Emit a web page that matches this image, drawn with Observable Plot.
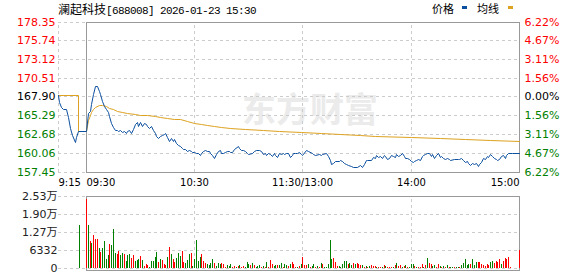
<!DOCTYPE html>
<html><head><meta charset="utf-8">
<script src="https://cdn.jsdelivr.net/npm/d3@7"></script>
<script src="https://cdn.jsdelivr.net/npm/@observablehq/plot@0.6"></script>
<style>
html,body{margin:0;padding:0;background:#fff;}
body{width:578px;height:276px;overflow:hidden;}
#head{position:relative;width:578px;height:16px;}
#title{position:absolute;left:58px;top:0;line-height:16px;white-space:nowrap;color:#000;}
#title .cn{font:12px "Noto Sans CJK SC";}
#title .en{font:11px "Liberation Mono";letter-spacing:-0.6px;}
.lg{position:absolute;top:0;line-height:16px;font:11px "Noto Sans CJK SC";color:#000;white-space:nowrap;}
.sw{position:absolute;top:6px;width:5px;height:3px;}
#p1 svg,#p2 svg{display:block;}
</style></head>
<body>
<div id="head">
  <div id="title"></div>
  <span class="lg" id="lg1" style="left:432px"></span>
  <span class="sw" id="sw1" style="left:462px"></span>
  <span class="lg" id="lg2" style="left:477px"></span>
  <span class="sw" id="sw2" style="left:508px"></span>
</div>
<div id="p1"></div>
<div id="p2"></div>
<script>
// ---------- data ----------
const stockName = "澜起科技";
const stockCode = "688008";
const stamp = "2026-01-23 15:30";
const legendNames = ["价格", "均线"];
const prevClose = 167.90;
const priceTicks = [178.35, 175.74, 173.12, 170.51, 167.90, 165.29, 162.68, 160.06, 157.45];
const pctLabels = ["6.22%", "4.67%", "3.11%", "1.56%", "0.00%", "1.56%", "3.11%", "4.67%", "6.22%"];
const timeTicks = [-15, 0, 60, 120, 180, 240];
const timeLabels = ["9:15", "09:30", "10:30", "11:30/13:00", "14:00", "15:00"];
const volTicks = [0, 6332, 12664, 18996, 25328];
const volLabels = ["0", "6332", "1.27万", "1.90万", "2.53万"];

// minutes after 09:30 (negative = call auction 09:15-09:30)
const priceTime = [-15,-14.2,-13.4,-12.3,-10.7,-9.4,-8.6,-7.5,-6.1,-5.1,-4.3,
 0,1,2,3,4,5,6,7,8,9,10,11,12,13,14,15,16,17,18,19,20,21,22,23,24,25,26,27,28,29,
 30,31,32,33,34,35,36,37,38,39,40,41,42,43,44,45,46,47,48,49,50,51,52,53,54,55,56,57,58,59,
 60,61,62,63,64,65,66,67,68,69,70,71,72,73,74,75,76,77,78,79,80,81,82,84,85,86,87,88,89,90,
 92,93,94,96,97,98,99,100,101,102,103,104,105,106,107,108,109,110,111,112,113,114,115,116,117,118,119,120,
 122,123,125,126,127,129,130,131,133,134,135,136,137,138,140,141,142,143,144,145,147,148,150,152,153,154,155,156,158,159,
 160,161,162,163,164,165,166,167,168,169,170,171,172,173,174,175,176,177,178,179,180,181,182,183,184,185,186,187,188,189,
 190,191,192,193,194,195,196,197,198,199,200,201,202,204,206,207,208,209,210,211,212,213,214,215,216,217,218,219,
 220,221,222,223,224,225,226,227,228,229,230,231,232,233,234,236,240];
const priceValue = [168.04,167.2,166.5,166.2,166.1,165.0,163.54,162.5,161.5,162.3,163.07,
 163.07,165.63,165.85,166.92,168.18,169.34,169.43,168.64,168.18,167.25,166.55,166.09,165.71,165.25,164.23,163.62,163.20,163.20,163.07,163.30,162.92,163.07,162.84,163.07,163.20,162.84,163.40,164.00,164.32,163.76,
 164.32,163.76,164.14,164.00,163.76,163.54,163.76,163.30,162.84,162.37,162.15,162.37,162.47,162.61,162.75,162.29,161.67,162.15,161.67,161.91,161.45,161.21,161.07,160.75,160.65,160.61,160.33,160.42,160.28,160.14,
 160.14,160.06,160.06,159.78,160.06,160.28,160.38,160.28,160.28,159.96,159.68,159.36,159.82,160.28,160.42,160.06,159.96,160.14,160.24,160.28,160.14,160.14,160.52,161.07,160.75,160.42,160.38,160.28,160.06,159.82,
 159.96,160.28,160.42,160.42,160.28,159.82,160.06,159.68,159.96,159.82,159.58,159.96,159.68,159.50,159.96,159.82,160.06,159.82,160.06,159.96,159.50,159.68,159.96,160.06,159.96,160.14,159.82,159.68,
 160.42,160.28,159.96,159.82,159.68,159.82,159.68,159.82,159.96,159.58,159.12,158.43,158.66,158.89,158.89,159.12,158.89,158.66,158.43,158.29,158.19,158.10,158.10,158.29,158.10,158.43,159.03,159.03,159.12,159.45,
 159.36,159.68,159.50,159.58,159.36,159.68,159.58,159.22,159.36,159.68,159.58,159.50,159.82,159.58,159.72,159.96,159.58,159.36,159.36,159.22,158.89,158.75,158.89,159.03,159.22,159.12,159.58,159.68,159.82,159.96,
 160.06,159.58,159.82,159.36,159.68,159.96,159.50,159.58,159.36,159.22,159.36,159.22,159.12,159.22,159.22,159.22,159.36,159.03,158.75,158.89,158.57,158.29,158.66,158.43,158.57,158.19,158.43,158.75,
 159.36,159.22,159.58,159.50,159.82,159.58,159.36,159.22,159.03,159.22,159.58,159.68,159.36,159.68,159.96,159.96,159.96];

const avgTime = [-15,-4.3,-4.3,0,1,2,3,4,5,7,9,11,13,15,17,20,23,27,30,34,38,41,45,49,52,56,60,64,67,71,75,80,88,98,107,119,130,141,152,160,180,196,210,224,240];
const avgValue = [168.04,168.04,163.07,163.07,164.6,165.3,165.75,166.09,166.38,166.65,166.69,166.55,166.32,166.19,165.9,165.71,165.63,165.53,165.39,165.30,165.25,165.02,164.93,164.83,164.70,164.46,164.23,164.00,163.86,163.76,163.62,163.54,163.40,163.23,163.09,162.98,162.82,162.68,162.47,162.37,162.23,162.15,162.01,161.81,161.67];

// per-minute volume, minute index 0..240 ; direction 1 = up (red), -1 = down (green)
const volume = [
 24160,15250,9620,8910,11500,10320,10320,7160,5630,7160, 9620,3280,4690,8560,8210,13840,5400,5040,6100,4690,
 5400,5040,2580,4690,5040,3640,4690,2580,2930,3280, 4340,2930,820,1520,1170,500,2580,2580,3990,5750,
 2230,3280,2930,1520,1170,3990,7510,5040,3280,2230, 3640,5400,4340,6100,2230,1880,2930,5040,5400,600,
 3280,9970,2580,3990,5040,2580,1880,1520,1170,1880, 3280,1880,700,1880,1520,1880,1520,470,1170,820,
 1310,480,600,480,720,960,480,720,360,2030, 1310,960,1670,1080,360,720,960,480,720,360,
 2030,360,2750,1310,720,960,960,960,1670,360, 1310,1080,720,1310,2030,1310,360,240,720,1310,
 3820,960,960,1310,360,720,1310,360,720,360, 1670,1310,480,360,1310,9680,3110,3470,2030,720,
 720,360,1310,2390,2390,1310,1670,960,1670,1310, 1670,1310,960,960,360,720,360,720,960,720,
 720,360,360,360,360,960,720,360,360,360, 360,960,1670,720,960,360,720,960,360,240,
 1310,1310,720,360,360,360,1310,360,960,3470, 1670,1310,720,960,360,1310,720,360,720,360,
 960,360,360,360,360,360,360,360,960,1670, 3110,960,1310,1310,3110,960,2030,2030,2030,1310,
 960,720,1310,960,2030,2390,1670,2390,2030,3110, 1310,2390,3470,3110,3820,360,0,0,0,0,6330];
const volDir = [
 1,-1,1,-1,1,1,1,-1,1,-1, -1,-1,-1,1,-1,-1,-1,1,1,-1,
 -1,1,-1,-1,-1,1,1,-1,-1,-1, 1,-1,1,1,1,-1,-1,-1,-1,-1,
 1,-1,1,1,1,-1,1,-1,1,1, -1,-1,-1,1,1,-1,-1,-1,1,-1,
 -1,-1,-1,-1,1,1,1,-1,-1,-1, -1,1,-1,-1,-1,1,1,1,-1,-1,
 -1,1,1,-1,1,-1,1,1,-1,-1, -1,1,-1,1,-1,-1,-1,1,-1,1,
 -1,1,1,1,-1,-1,1,-1,-1,1, -1,-1,1,-1,1,1,1,-1,1,-1,
 1,1,1,-1,1,-1,-1,1,-1,1, -1,1,-1,-1,-1,-1,-1,1,1,1,
 -1,-1,-1,-1,-1,1,-1,-1,1,-1, 1,1,1,-1,1,-1,1,-1,1,1,
 1,-1,1,1,-1,1,-1,1,1,1, -1,1,-1,1,1,-1,1,-1,1,-1,
 -1,-1,1,-1,1,1,1,-1,1,-1, 1,1,-1,-1,1,1,-1,1,-1,1,
 -1,1,-1,-1,1,-1,-1,1,-1,-1, -1,-1,-1,1,-1,-1,-1,1,1,1,
 1,1,1,1,-1,-1,1,1,1,1, -1,1,1,1,1,1,1,1,1,1,1];
const auctionVolTime = [-4];
const auctionVolume = [15000];
const auctionVolDir = [-1];

// ---------- styles ----------
const RED = "#ff0000", GREEN = "#008000", BLACK = "#000000";
const BLUE = "#0b4f9f", GOLD = "#dda21f";
const GRID = "#cccccc", FRAME = "#999999";
const FONT = "'DejaVu Sans','Noto Sans CJK SC',sans-serif";

// ---------- header ----------
document.getElementById("title").innerHTML =
  `<span class="cn">${stockName}</span><span class="en">[${stockCode}] ${stamp}</span>`;
document.getElementById("lg1").textContent = legendNames[0];
document.getElementById("lg2").textContent = legendNames[1];
document.getElementById("sw1").style.background = BLUE;
document.getElementById("sw2").style.background = GOLD;

// ---------- tables ----------
const priceData = priceTime.map((t, i) => ({t, p: priceValue[i]}));
const avgData = avgTime.map((t, i) => ({t, p: avgValue[i]}));
const tickColor = v => Math.abs(v - prevClose) < 1e-6 ? BLACK : (v > prevClose ? RED : GREEN);
const priceTickData = priceTicks.map((v, i) => ({v, label: v.toFixed(2), pct: pctLabels[i], c: tickColor(v)}));
const timeData = timeTicks.map((t, i) => ({t, label: timeLabels[i]}));
const volData = volume.map((v, i) => ({t: i, v, c: volDir[i] > 0 ? RED : GREEN})).filter(d => d.v > 0)
  .concat(auctionVolTime.map((t, i) => ({t, v: auctionVolume[i], c: auctionVolDir[i] > 0 ? RED : GREEN})));
const volTickData = volTicks.map((v, i) => ({v, label: volLabels[i]}));

// the call-auction quarter hour (09:15-09:30) is drawn a little wider than a trading quarter hour
const AUCTION_STRETCH = 1.0346;
const xScale = {
  type: "linear",
  transform: t => (t < 0 ? t * AUCTION_STRETCH : t),
  domain: [-15 * AUCTION_STRETCH, 240],
  range: [58, 519],
  round: true,
  axis: null
};
const dash = {stroke: GRID, strokeDasharray: "3,3", strokeWidth: 1};

// ---------- price panel ----------
const p1 = Plot.plot({
  width: 578, height: 174,
  marginLeft: 86, marginRight: 59, marginTop: 6, marginBottom: 18,
  x: xScale,
  y: {domain: [157.45, 178.35], range: [155.5, 5.5], round: true, axis: null},
  color: {type: "identity"},
  style: {fontFamily: FONT, fontSize: "11px", background: "#fff"},
  marks: [
    Plot.text(["东方财富"], {frameAnchor: "top", dx: 7, dy: 75, text: d => d, fontSize: 34, fontWeight: "bold",
      fontFamily: "Noto Sans CJK SC", fill: "#ebebeb"}),
    Plot.ruleY(priceTicks, {y: d => d, x1: -15, x2: 240, ...dash}),
    Plot.ruleX([-15, 60, 120, 180], {x: d => d, y1: 157.45, y2: 178.35, ...dash}),
    Plot.frame({stroke: FRAME}),
    Plot.line(avgData, {x: "t", y: "p", stroke: GOLD, strokeWidth: 1}),
    Plot.line(priceData, {x: "t", y: "p", stroke: BLUE, strokeWidth: 1}),
    Plot.text(priceTickData, {x: -15, y: "v", text: "label", fill: d => d.c, textAnchor: "end", dx: -3}),
    Plot.text(priceTickData, {x: 240, y: "v", text: "pct", fill: d => d.c, textAnchor: "start", dx: 5}),
    Plot.text(timeData.slice(0, 2), {x: "t", y: 157.45, text: "label", textAnchor: "start", dy: 10, fill: BLACK, fontSize: 10}),
    Plot.text(timeData.slice(2, 5), {x: "t", y: 157.45, text: "label", textAnchor: "middle", dy: 10, fill: BLACK, fontSize: 10}),
    Plot.text(timeData.slice(5), {x: "t", y: 157.45, text: "label", textAnchor: "end", dy: 10, fill: BLACK, fontSize: 10})
  ]
});
document.getElementById("p1").appendChild(p1);

// ---------- volume panel ----------
const p2 = Plot.plot({
  width: 578, height: 86,
  marginLeft: 86, marginRight: 59, marginTop: 6, marginBottom: 6,
  x: xScale,
  y: {domain: [0, 25328], range: [78, 6], round: true, axis: null},
  color: {type: "identity"},
  style: {fontFamily: FONT, fontSize: "11px", background: "#fff"},
  marks: [
    Plot.ruleY(volTicks, {y: d => d, x1: -15, x2: 240, ...dash}),
    Plot.ruleX([60, 120, 180], {x: d => d, y1: 0, y2: 25328, ...dash}),
    Plot.frame({stroke: FRAME}),
    Plot.ruleX(volData, {x: "t", y1: 0, y2: "v", stroke: d => d.c, strokeWidth: 1}),
    Plot.text(volTickData, {x: -15, y: "v", text: "label", textAnchor: "end", dx: -1, fill: "#222"})
  ]
});
document.getElementById("p2").appendChild(p2);
</script>
</body></html>
